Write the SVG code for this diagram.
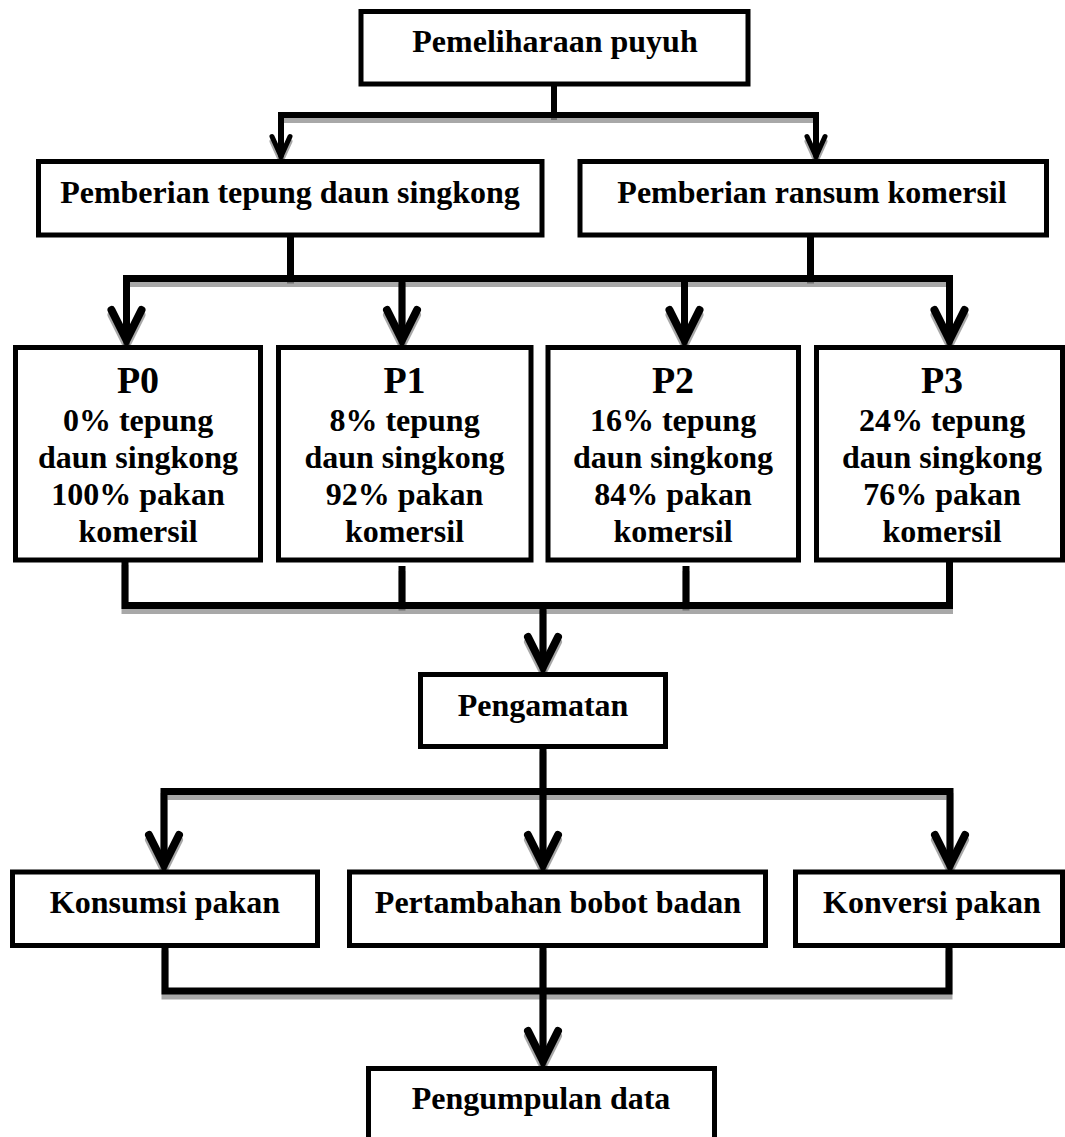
<svg xmlns="http://www.w3.org/2000/svg" width="1065" height="1137" viewBox="0 0 1065 1137">
<style>
.box{fill:#fff;stroke:#000;stroke-width:5}
text{font-family:"Liberation Serif","Times New Roman",serif;font-weight:bold;font-size:32px;text-anchor:middle;fill:#000}
.big{font-size:38px}
.ln{fill:none;stroke-width:7;stroke-linejoin:miter}
.ln1{fill:none;stroke-width:6;stroke-linejoin:miter}
.ah{fill:none;stroke-width:8;stroke-linecap:round;stroke-linejoin:miter;stroke-miterlimit:10}
.ah1{fill:none;stroke-width:5;stroke-linecap:round;stroke-linejoin:miter;stroke-miterlimit:10}
.main{stroke:#000}
.shadow{stroke:#000;stroke-opacity:0.34}
</style>
<defs>
<path id="head" d="M-15,-30 L0,0 L15,-30"/>
<path id="head1" d="M-9,-20 L0,0 L9,-20"/>
<g id="conn-shapes">
<path class="ln1" d="M554,84 V115"/>
<path class="ln1" d="M281,156.5 V115 H816 V156.5"/>
<use href="#head1" class="ah1" x="281" y="156.5"/>
<use href="#head1" class="ah1" x="816" y="156.5"/>
<path class="ln" d="M290.5,235 V278.5"/>
<path class="ln" d="M810.5,235 V278.5"/>
<path class="ln" d="M126.5,340 V278.5 H949.5 V340"/>
<path class="ln" d="M402,278.5 V340"/>
<path class="ln" d="M684.5,278.5 V340"/>
<use href="#head" class="ah" x="126.5" y="340"/>
<use href="#head" class="ah" x="402" y="340"/>
<use href="#head" class="ah" x="684.5" y="340"/>
<use href="#head" class="ah" x="949.5" y="340"/>
<path class="ln" d="M125,560 V605.5 H949.5 V560"/>
<path class="ln" d="M402,566 V605.5"/>
<path class="ln" d="M686,566 V605.5"/>
<path class="ln" d="M543,605.5 V667"/>
<use href="#head" class="ah" x="543" y="667"/>
<path class="ln" d="M543,746.5 V865"/>
<path class="ln" d="M164,865 V791.5 H950 V865"/>
<use href="#head" class="ah" x="164" y="865"/>
<use href="#head" class="ah" x="543" y="865"/>
<use href="#head" class="ah" x="950" y="865"/>
<path class="ln" d="M165,945.5 V991 H949 V945.5"/>
<path class="ln" d="M543,945.5 V1061"/>
<use href="#head" class="ah" x="543" y="1061"/>
</g>
</defs>
<g id="connectors">
<use href="#conn-shapes" class="shadow" transform="translate(0,5)"/>
<use href="#conn-shapes" class="main"/>
</g>
<g id="n-pemeliharaan"><rect class="box" x="361" y="11.5" width="387" height="72.5"/><text x="555" y="51.5">Pemeliharaan puyuh</text></g>
<g id="n-tepung"><rect class="box" x="38.5" y="161.5" width="503.5" height="73.5"/><text x="290" y="202.5">Pemberian tepung daun singkong</text></g>
<g id="n-ransum"><rect class="box" x="580" y="161.5" width="466.5" height="73.5"/><text x="812" y="202.5">Pemberian ransum komersil</text></g>
<g id="n-p0"><rect class="box" x="15.5" y="347.5" width="245" height="212.5"/>
<text class="big" x="138" y="393">P0</text><text x="138" y="431">0% tepung</text><text x="138" y="468">daun singkong</text><text x="138" y="505">100% pakan</text><text x="138" y="542">komersil</text></g>
<g id="n-p1"><rect class="box" x="278.5" y="347.5" width="252.5" height="212.5"/>
<text class="big" x="404.5" y="393">P1</text><text x="404.5" y="431">8% tepung</text><text x="404.5" y="468">daun singkong</text><text x="404.5" y="505">92% pakan</text><text x="404.5" y="542">komersil</text></g>
<g id="n-p2"><rect class="box" x="548" y="347.5" width="250.5" height="212.5"/>
<text class="big" x="673" y="393">P2</text><text x="673" y="431">16% tepung</text><text x="673" y="468">daun singkong</text><text x="673" y="505">84% pakan</text><text x="673" y="542">komersil</text></g>
<g id="n-p3"><rect class="box" x="816.5" y="347.5" width="246" height="212.5"/>
<text class="big" x="942" y="393">P3</text><text x="942" y="431">24% tepung</text><text x="942" y="468">daun singkong</text><text x="942" y="505">76% pakan</text><text x="942" y="542">komersil</text></g>
<g id="n-pengamatan"><rect class="box" x="420.5" y="674.5" width="245" height="72"/><text x="543" y="716">Pengamatan</text></g>
<g id="n-konsumsi"><rect class="box" x="12.5" y="872" width="305" height="73.5"/><text x="165" y="913">Konsumsi pakan</text></g>
<g id="n-pertambahan"><rect class="box" x="349.5" y="872" width="416" height="73.5"/><text x="558" y="913">Pertambahan bobot badan</text></g>
<g id="n-konversi"><rect class="box" x="795.5" y="872" width="267" height="73.5"/><text x="932" y="913">Konversi pakan</text></g>
<g id="n-pengumpulan"><rect class="box" x="368.5" y="1068.5" width="346" height="73"/><text x="541" y="1109">Pengumpulan data</text></g>
</svg>
